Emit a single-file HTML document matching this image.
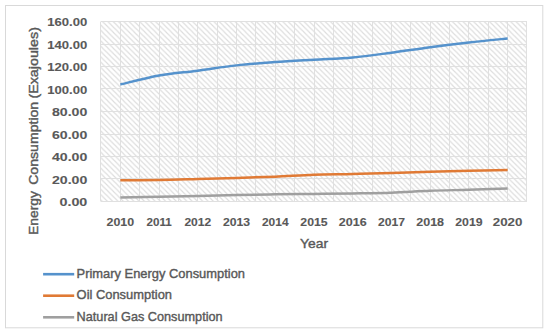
<!DOCTYPE html>
<html><head><meta charset="utf-8"><style>
html,body{margin:0;padding:0;background:#fff;}
svg{display:block;}
text{font-family:"Liberation Sans",sans-serif;fill:#595959;stroke:#595959;stroke-width:0.4px;}
.b text{stroke-width:0.1px;}
</style></head><body>
<svg width="550" height="333" viewBox="0 0 550 333">
<defs>
<pattern id="hatch" patternUnits="userSpaceOnUse" width="5.3" height="5.3" patternTransform="translate(102.5 21.5)">
<path d="M-1.325 1.325 L1.325 -1.325 M0 5.3 L5.3 0 M3.975 6.625 L6.625 3.975" stroke="#dcdcdc" stroke-width="1.1" transform="scale(-1 1) translate(-5.3 0)"/>
</pattern>
<filter id="soft" x="-1%" y="-1%" width="102%" height="102%"><feGaussianBlur stdDeviation="0.45"/></filter>
</defs>
<rect x="0" y="0" width="550" height="333" fill="#fff"/>
<rect x="5.5" y="5.5" width="537.3" height="322.3" fill="#fff" stroke="#d9d9d9" stroke-width="1"/>
<g filter="url(#soft)">
<rect x="101.0" y="21.5" width="426.0" height="180.0" fill="url(#hatch)"/>
<g stroke="#e0e0e0" stroke-width="1" fill="none">
<line x1="100.50" y1="21.50" x2="100.50" y2="201.50"/>
<line x1="120.50" y1="21.50" x2="120.50" y2="201.50"/>
<line x1="139.50" y1="21.50" x2="139.50" y2="201.50"/>
<line x1="159.50" y1="21.50" x2="159.50" y2="201.50"/>
<line x1="178.50" y1="21.50" x2="178.50" y2="201.50"/>
<line x1="197.50" y1="21.50" x2="197.50" y2="201.50"/>
<line x1="217.50" y1="21.50" x2="217.50" y2="201.50"/>
<line x1="236.50" y1="21.50" x2="236.50" y2="201.50"/>
<line x1="255.50" y1="21.50" x2="255.50" y2="201.50"/>
<line x1="275.50" y1="21.50" x2="275.50" y2="201.50"/>
<line x1="294.50" y1="21.50" x2="294.50" y2="201.50"/>
<line x1="314.50" y1="21.50" x2="314.50" y2="201.50"/>
<line x1="333.50" y1="21.50" x2="333.50" y2="201.50"/>
<line x1="352.50" y1="21.50" x2="352.50" y2="201.50"/>
<line x1="372.50" y1="21.50" x2="372.50" y2="201.50"/>
<line x1="391.50" y1="21.50" x2="391.50" y2="201.50"/>
<line x1="410.50" y1="21.50" x2="410.50" y2="201.50"/>
<line x1="430.50" y1="21.50" x2="430.50" y2="201.50"/>
<line x1="449.50" y1="21.50" x2="449.50" y2="201.50"/>
<line x1="468.50" y1="21.50" x2="468.50" y2="201.50"/>
<line x1="488.50" y1="21.50" x2="488.50" y2="201.50"/>
<line x1="507.50" y1="21.50" x2="507.50" y2="201.50"/>
<line x1="526.50" y1="21.50" x2="526.50" y2="201.50"/>
<line x1="101.00" y1="201.50" x2="527.00" y2="201.50"/>
<line x1="101.00" y1="178.50" x2="527.00" y2="178.50"/>
<line x1="101.00" y1="156.50" x2="527.00" y2="156.50"/>
<line x1="101.00" y1="134.50" x2="527.00" y2="134.50"/>
<line x1="101.00" y1="111.50" x2="527.00" y2="111.50"/>
<line x1="101.00" y1="88.50" x2="527.00" y2="88.50"/>
<line x1="101.00" y1="66.50" x2="527.00" y2="66.50"/>
<line x1="101.00" y1="44.50" x2="527.00" y2="44.50"/>
<line x1="101.00" y1="21.50" x2="527.00" y2="21.50"/>
</g>
</g>
<g fill="none" stroke-width="2.5" stroke-linecap="butt" stroke-linejoin="round">
<path d="M120.36 197.45 C126.82 197.34 146.18 197.02 159.09 196.78 C172.00 196.53 184.91 196.27 197.82 195.99 C210.73 195.71 223.64 195.37 236.55 195.09 C249.45 194.81 262.36 194.50 275.27 194.30 C288.18 194.10 301.09 194.05 314.00 193.91 C326.91 193.77 339.82 193.66 352.73 193.46 C365.64 193.25 378.55 193.12 391.45 192.67 C404.36 192.22 417.27 191.24 430.18 190.76 C443.09 190.27 456.00 190.12 468.91 189.74 C481.82 189.37 501.18 188.71 507.64 188.51" stroke="#9f9f9f"/>
<path d="M120.36 180.18 C126.82 180.15 146.18 180.21 159.09 180.01 C172.00 179.82 184.91 179.36 197.82 179.00 C210.73 178.64 223.64 178.27 236.55 177.88 C249.45 177.48 262.36 177.14 275.27 176.64 C288.18 176.13 301.09 175.27 314.00 174.84 C326.91 174.41 339.82 174.37 352.73 174.05 C365.64 173.73 378.55 173.32 391.45 172.93 C404.36 172.53 417.27 172.06 430.18 171.69 C443.09 171.31 456.00 170.94 468.91 170.68 C481.82 170.41 501.18 170.21 507.64 170.11" stroke="#e07a35"/>
<path d="M120.36 84.50 C126.82 83.00 146.18 77.81 159.09 75.50 C172.00 73.19 184.91 72.35 197.82 70.66 C210.73 68.97 223.64 66.80 236.55 65.38 C249.45 63.95 262.36 63.05 275.27 62.11 C288.18 61.18 301.09 60.51 314.00 59.75 C326.91 58.99 339.82 58.74 352.73 57.56 C365.64 56.38 378.55 54.40 391.45 52.66 C404.36 50.93 417.27 48.86 430.18 47.15 C443.09 45.44 456.00 43.87 468.91 42.43 C481.82 40.98 501.18 39.14 507.64 38.49" stroke="#5592cc"/>
</g>
<g class="b" font-weight="bold" font-size="11">
<text x="87.3" y="206.10" text-anchor="end" textLength="27.8" lengthAdjust="spacingAndGlyphs">0.00</text>
<text x="87.3" y="183.60" text-anchor="end" textLength="35.3" lengthAdjust="spacingAndGlyphs">20.00</text>
<text x="87.3" y="161.10" text-anchor="end" textLength="35.3" lengthAdjust="spacingAndGlyphs">40.00</text>
<text x="87.3" y="138.60" text-anchor="end" textLength="35.3" lengthAdjust="spacingAndGlyphs">60.00</text>
<text x="87.3" y="116.10" text-anchor="end" textLength="35.3" lengthAdjust="spacingAndGlyphs">80.00</text>
<text x="87.3" y="93.60" text-anchor="end" textLength="40.0" lengthAdjust="spacingAndGlyphs">100.00</text>
<text x="87.3" y="71.10" text-anchor="end" textLength="40.0" lengthAdjust="spacingAndGlyphs">120.00</text>
<text x="87.3" y="48.60" text-anchor="end" textLength="40.0" lengthAdjust="spacingAndGlyphs">140.00</text>
<text x="87.3" y="26.10" text-anchor="end" textLength="40.0" lengthAdjust="spacingAndGlyphs">160.00</text>
<text x="120.36" y="225.6" text-anchor="middle" textLength="27.6" lengthAdjust="spacingAndGlyphs">2010</text>
<text x="159.09" y="225.6" text-anchor="middle" textLength="25.2" lengthAdjust="spacingAndGlyphs">2011</text>
<text x="197.82" y="225.6" text-anchor="middle" textLength="26.8" lengthAdjust="spacingAndGlyphs">2012</text>
<text x="236.55" y="225.6" text-anchor="middle" textLength="27.2" lengthAdjust="spacingAndGlyphs">2013</text>
<text x="275.27" y="225.6" text-anchor="middle" textLength="26.6" lengthAdjust="spacingAndGlyphs">2014</text>
<text x="314.00" y="225.6" text-anchor="middle" textLength="27.3" lengthAdjust="spacingAndGlyphs">2015</text>
<text x="352.73" y="225.6" text-anchor="middle" textLength="27.9" lengthAdjust="spacingAndGlyphs">2016</text>
<text x="391.45" y="225.6" text-anchor="middle" textLength="27.0" lengthAdjust="spacingAndGlyphs">2017</text>
<text x="430.18" y="225.6" text-anchor="middle" textLength="27.8" lengthAdjust="spacingAndGlyphs">2018</text>
<text x="468.91" y="225.6" text-anchor="middle" textLength="27.3" lengthAdjust="spacingAndGlyphs">2019</text>
<text x="507.64" y="225.6" text-anchor="middle" textLength="29.6" lengthAdjust="spacingAndGlyphs">2020</text>
</g>
<g font-size="13.3">
<text transform="translate(38.1 235.0) rotate(-90)" textLength="44" lengthAdjust="spacingAndGlyphs">Energy</text>
<text transform="translate(38.1 184.8) rotate(-90)" textLength="83" lengthAdjust="spacingAndGlyphs">Consumption</text>
<text transform="translate(38.1 98.6) rotate(-90)" textLength="71.5" lengthAdjust="spacingAndGlyphs">(Exajoules)</text>
</g>
<text x="300" y="248.2" font-size="13.5" textLength="28" lengthAdjust="spacingAndGlyphs">Year</text>
<g stroke-width="2.6" stroke-linecap="butt">
<line x1="43.1" y1="274.2" x2="74.2" y2="274.2" stroke="#5592cc"/>
<line x1="43.1" y1="295.7" x2="74.2" y2="295.7" stroke="#e07a35"/>
<line x1="43.1" y1="317.3" x2="74.2" y2="317.3" stroke="#9f9f9f"/>
</g>
<g font-size="12.9">
<text x="76.6" y="277.8" textLength="168.4" lengthAdjust="spacingAndGlyphs">Primary Energy Consumption</text>
<text x="76.6" y="299.3" textLength="95.4" lengthAdjust="spacingAndGlyphs">Oil Consumption</text>
<text x="76.6" y="321.0" textLength="146" lengthAdjust="spacingAndGlyphs">Natural Gas Consumption</text>
</g>
</svg>
</body></html>
